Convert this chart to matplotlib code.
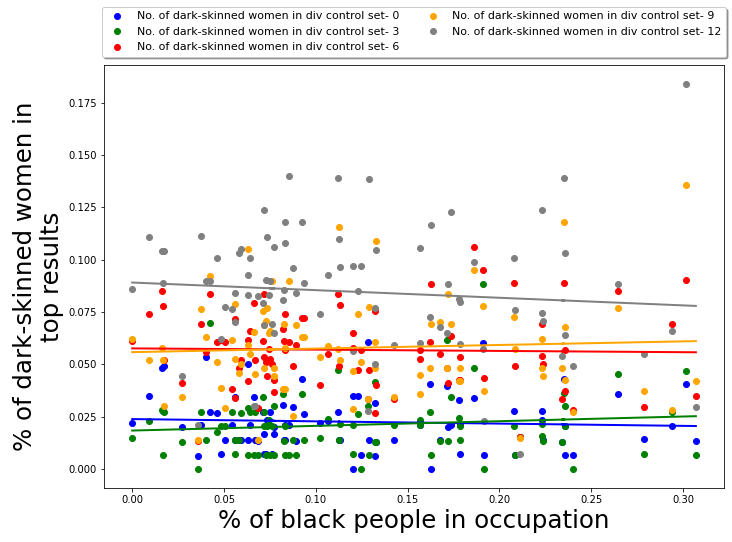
import numpy as np
import matplotlib
matplotlib.use("Agg")
import matplotlib.pyplot as plt

# share of black people in each occupation (x) and share of dark-skinned women
# in top results for each diversity control set (y)
black_share = [0.000, 0.009, 0.016, 0.017, 0.0175, 0.027, 0.0357, 0.0375, 0.040, 0.0425,
               0.046, 0.0485, 0.0505, 0.0543, 0.0558, 0.056, 0.058, 0.0593, 0.0629, 0.063,
               0.064, 0.0665, 0.0668, 0.0683, 0.071, 0.0717, 0.072, 0.073, 0.0734, 0.075,
               0.076, 0.077, 0.0775, 0.0745, 0.082, 0.0826, 0.083, 0.0832, 0.0853, 0.0875,
               0.089, 0.0924, 0.0935, 0.1023, 0.1067, 0.112, 0.113, 0.1125, 0.120, 0.1205,
               0.123, 0.1245, 0.1285, 0.1288, 0.132, 0.1325, 0.1328, 0.1425, 0.1565, 0.157,
               0.162, 0.1625, 0.1675, 0.1717, 0.172, 0.1735, 0.178, 0.1785, 0.1788, 0.186,
               0.1913, 0.1915, 0.208, 0.2085, 0.211, 0.223, 0.2232, 0.2235, 0.235, 0.2355,
               0.234, 0.2358, 0.240, 0.2647, 0.279, 0.294, 0.3017, 0.307]

set_0 = [0.022, 0.035, 0.048, 0.0275, 0.049, 0.020, 0.0062, 0.021, 0.0536, 0.027,
         0.0268, 0.0072, 0.0139, 0.0211, 0.0345, 0.0139, 0.0139, 0.0139, 0.0503, 0.0139,
         0.0210, 0.0345, 0.0139, 0.0134, 0.0273, 0.0072, 0.0168, 0.0072, 0.0235, 0.0273,
         0.0072, 0.020, 0.0168, 0.021, 0.0307, 0.0139, 0.0139, 0.0210, 0.0210, 0.0297,
         0.0134, 0.043, 0.0263, 0.0217, 0.0230, 0.0273, 0.0139, 0.0139, 0.035, 0.000,
         0.035, 0.0067, 0.0608, 0.0139, 0.0316, 0.0062, 0.0130, 0.0139, 0.0230, 0.0210,
         0.0407, 0.000, 0.0139, 0.0398, 0.020, 0.0210, 0.033, 0.0072, 0.0210, 0.034,
         0.060, 0.0067, 0.0278, 0.0067, 0.0153, 0.0278, 0.0235, 0.0139, 0.043, 0.0206,
         0.013, 0.0067, 0.0067, 0.036, 0.0144, 0.0206, 0.0407, 0.0134]

set_3 = [0.0145, 0.023, 0.028, 0.0067, 0.027, 0.013, 0.000, 0.027, 0.0139, 0.0699,
         0.0177, 0.0206, 0.0206, 0.027, 0.0139, 0.0072, 0.0139, 0.0268, 0.0067, 0.0292,
         0.0273, 0.0067, 0.027, 0.0067, 0.0345, 0.0206, 0.027, 0.0067, 0.0206, 0.0067,
         0.0206, 0.0302, 0.0067, 0.0235, 0.036, 0.0134, 0.0067, 0.0206, 0.0067, 0.0137,
         0.0067, 0.036, 0.0139, 0.0148, 0.0236, 0.0474, 0.0216, 0.0139, 0.021, 0.0072,
         0.0263, 0.000, 0.0302, 0.0067, 0.0417, 0.013, 0.0130, 0.021, 0.0235, 0.0210,
         0.0273, 0.0067, 0.0134, 0.0618, 0.0134, 0.0345, 0.0244, 0.0139, 0.0206, 0.0484,
         0.0886, 0.000, 0.0206, 0.0067, 0.0150, 0.0216, 0.0158, 0.0134, 0.0364, 0.0302,
         0.013, 0.0206, 0.000, 0.0455, 0.0072, 0.027, 0.0469, 0.0067]

set_6 = [0.061, 0.074, 0.085, 0.078, 0.052, 0.041, 0.0134, 0.0694, 0.056, 0.0838,
         0.0608, 0.0618, 0.0608, 0.0383, 0.034, 0.0718, 0.048, 0.052, 0.0618, 0.042,
         0.0660, 0.0795, 0.052, 0.0292, 0.0613, 0.0838, 0.0537, 0.0513, 0.0445, 0.0527,
         0.050, 0.0425, 0.0365, 0.0575, 0.067, 0.0613, 0.057, 0.0738, 0.0604, 0.0493,
         0.0594, 0.0723, 0.0723, 0.0403, 0.055, 0.0838, 0.0785, 0.0493, 0.065, 0.058,
         0.0474, 0.057, 0.0335, 0.0474, 0.0757, 0.0268, 0.0403, 0.0335, 0.0527, 0.057,
         0.0608, 0.0886, 0.055, 0.048, 0.0412, 0.0637, 0.0425, 0.0537, 0.0425, 0.1063,
         0.0953, 0.0436, 0.089, 0.0493, 0.0153, 0.0694, 0.054, 0.0503, 0.089, 0.057,
         0.0335, 0.037, 0.0283, 0.0848, 0.0297, 0.0694, 0.0905, 0.035]

set_9 = [0.062, 0.052, 0.058, 0.052, 0.030, 0.0345, 0.0137, 0.0766, 0.063, 0.0924,
         0.0513, 0.0388, 0.0292, 0.0618, 0.0527, 0.079, 0.046, 0.050, 0.0594, 0.105,
         0.055, 0.0656, 0.0455, 0.0137, 0.0757, 0.048, 0.069, 0.0709, 0.077, 0.066,
         0.0896, 0.0484, 0.0445, 0.065, 0.0383, 0.0694, 0.058, 0.0383, 0.0896, 0.0254,
         0.069, 0.063, 0.063, 0.0533, 0.0589, 0.0575, 0.052, 0.1154, 0.047, 0.0287,
         0.0738, 0.0513, 0.0335, 0.0776, 0.048, 0.0608, 0.109, 0.0345, 0.045, 0.036,
         0.0484, 0.0694, 0.0704, 0.0484, 0.0838, 0.0694, 0.042, 0.048, 0.042, 0.0953,
         0.078, 0.037, 0.0728, 0.0575, 0.0148, 0.0623, 0.048, 0.0445, 0.118, 0.068,
         0.048, 0.0426, 0.0273, 0.0771, 0.0374, 0.0283, 0.1355, 0.042]

set_12 = [0.086, 0.111, 0.104, 0.089, 0.104, 0.0445, 0.021, 0.1115, 0.0896, 0.0896,
          0.1006, 0.0623, 0.0776, 0.0766, 0.0704, 0.0843, 0.1034, 0.105, 0.0929, 0.0829,
          0.101, 0.0302, 0.0302, 0.0824, 0.0795, 0.124, 0.069, 0.0905, 0.111, 0.0896,
          0.0694, 0.106, 0.0648, 0.0833, 0.0805, 0.0857, 0.1078, 0.118, 0.140, 0.0958,
          0.0843, 0.118, 0.089, 0.0742, 0.0929, 0.139, 0.0967, 0.1097, 0.0565, 0.097,
          0.0848, 0.0970, 0.0278, 0.1385, 0.0503, 0.0771, 0.1044, 0.0594, 0.0603, 0.1054,
          0.0728, 0.1164, 0.068, 0.0648, 0.0886, 0.1226, 0.081, 0.0598, 0.080, 0.099,
          0.0575, 0.023, 0.1006, 0.076, 0.0072, 0.124, 0.0747, 0.0709, 0.139, 0.103,
          0.054, 0.064, 0.0493, 0.0886, 0.0551, 0.066, 0.1839, 0.0297]

set_names = ["0", "3", "6", "9", "12"]
set_values = [set_0, set_3, set_6, set_9, set_12]
colors = ["blue", "green", "red", "orange", "grey"]

fig = plt.figure(figsize=(732 / 72, 542 / 72), dpi=72)
ax = fig.add_axes([0.1421, 0.0996, 0.847, 0.7804])

x = np.array(black_share)
for name, vals, c in zip(set_names, set_values, colors):
    ax.plot(x, vals, "o", color=c, label="No. of dark-skinned women in div control set- " + name)

# linear fit per control set
for vals, c in zip(set_values, colors):
    m, b = np.polyfit(x, vals, 1)
    ax.plot(x, m * x + b, color=c, linewidth=2)

ax.set_xlabel("% of black people in occupation", fontsize=24.5)
ax.set_ylabel("% of dark-skinned women in\ntop results", fontsize=24.5)
ax.legend(loc="upper center", bbox_to_anchor=(0.5, 1.15), ncol=2,
          fancybox=True, shadow=True, fontsize=11)

fig.savefig("out.png", dpi=72)
